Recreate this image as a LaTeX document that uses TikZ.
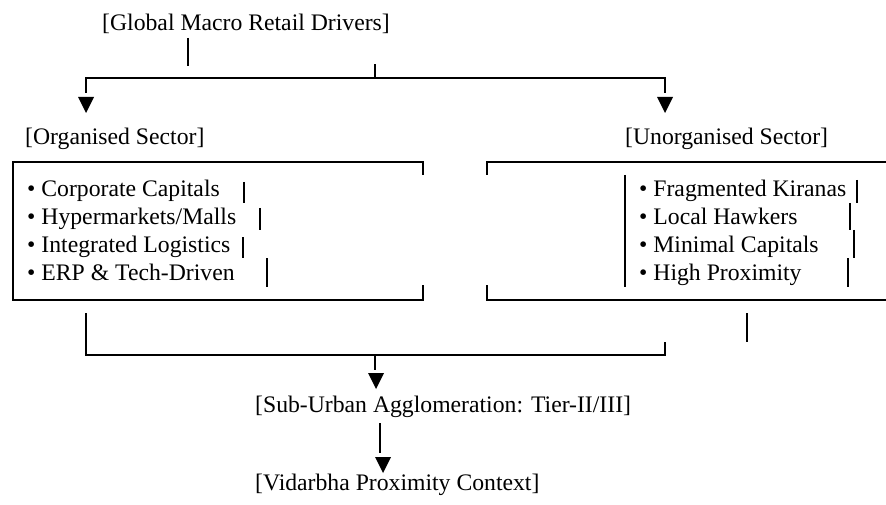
\documentclass[tikz,border=0pt]{standalone}
\usepackage{fontspec}
\setmainfont{Liberation Serif}
\usetikzlibrary{positioning,calc}
\tikzset{
  lbl/.style={font=\fontsize{23.7}{28}\selectfont, inner sep=0pt, anchor=base west},
  wire/.style={line width=1.6pt},
}
\newcommand{\downtri}[2]{%
  \fill ({#1-8},#2) -- ({#1+8},#2) -- (#1,{#2+16}) -- cycle;
}

\begin{document}
\begin{tikzpicture}[x=1pt,y=-1pt]
    \useasboundingbox (0,0) rectangle (886,505);
    % headings
    \node[lbl] (drivers) at (102,31) {[Global Macro Retail Drivers]};
    \node[lbl] (org) at (25,145) {[Organised Sector]};
    \node[lbl] (unorg) at (625,145) {[Unorganised Sector]};
    \node[lbl] (suburb) at (255,412) {[Sub-Urban Agglomeration: Tier-II/III]};
    \node[lbl] (vidarbha) at (255,490) {[Vidarbha Proximity Context]};
    % sector lists
    \foreach \i/\y/\txt in {1/197/{Corporate Capitals}, 2/225/{Hypermarkets/Malls},
        3/252/{Integrated Logistics}, 4/280/{ERP \& Tech-Driven}}{
      \node[lbl] (org\i) at (27,\y) {\textbullet\ \txt};
    }
    \foreach \i/\y/\txt in {1/197/{Fragmented Kiranas}, 2/225/{Local Hawkers},
        3/252/{Minimal Capitals}, 4/280/{High Proximity}}{
      \node[lbl] (unorg\i) at (639,\y) {\textbullet\ \txt};
    }
    % stray bars
    \foreach \bx/\ba/\bb in {244/182/203, 260/208/230, 243/237/258, 267/258/287,
        857/180/203, 850/203/230, 854/230/258, 848/258/287}{
      \draw[wire] (\bx,\ba) -- (\bx,\bb);
    }
    % frames
    \draw[wire] (423,175) -- (423,162) -- (13,162) -- (13,300) -- (423,300) -- (423,285);
    \draw[wire] (487,175) -- (487,162) -- (886,162);
    \draw[wire] (487,285) -- (487,300) -- (886,300);
    \draw[wire] (625,175) -- (625,287);
    % top split
    \coordinate (topL) at (86,78);
    \coordinate (topM) at (375,78);
    \coordinate (topR) at (665,78);
    \draw[wire] ($(drivers.base west)+(86,7)$) -- ++(0,28);
    \draw[wire] (topM) -- ++(0,-14);
    \draw[wire] ($(topL)+(0,15)$) -- (topL) -- (topR) -- ++(0,15);
    \downtri{86}{97}
    \downtri{665}{97}
    % merge below the sectors
    \coordinate (botL) at (86,355);
    \coordinate (botM) at (375,355);
    \coordinate (botR) at (665,355);
    \draw[wire] ($(botL)+(0,-42)$) -- (botL) -- (botR) -- ++(0,-13);
    \draw[wire] (747,313) -- (747,342);
    \draw[wire] (botM) -- ++(0,15);
    \downtri{376}{373}
    % down to Vidarbha
    \draw[wire] ($(suburb.base west)+(125,11)$) -- ++(0,30);
    \downtri{383}{457}
\end{tikzpicture}
\end{document}
